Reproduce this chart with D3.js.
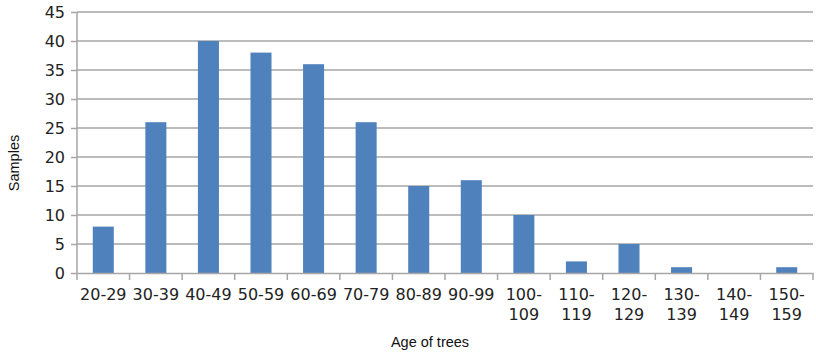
<!DOCTYPE html>
<html><head><meta charset="utf-8">
<script src="https://cdn.jsdelivr.net/npm/d3@7"></script>
<style>html,body{margin:0;padding:0;background:#fff;}svg{display:block;}</style>
</head><body>
<svg id="c" width="816" height="360"></svg>
<script>
const categories = ["20-29","30-39","40-49","50-59","60-69","70-79","80-89","90-99","100-109","110-119","120-129","130-139","140-149","150-159"];
const samples = [8,26,40,38,36,26,15,16,10,2,5,1,0,1];
const yTicks = [0,5,10,15,20,25,30,35,40,45];
const xTitle = "Age of trees";
const yTitle = "Samples";

const svg = d3.select("#c");
const m = {left:77, right:813, top:12, bottom:273};
const x = d3.scaleBand().domain(categories).range([m.left, m.right]).paddingInner(0.6).paddingOuter(0.3);
const xb = d3.scaleBand().domain(categories).range([m.left, m.right]);
const y = d3.scaleLinear().domain([0,45]).range([m.bottom, m.top]);
const grey = "#a6a6a6";

// gridlines
svg.append("g").selectAll("line").data(yTicks.filter(d=>d>0)).join("line")
  .attr("x1", m.left).attr("x2", m.right)
  .attr("y1", d=>y(d)).attr("y2", d=>y(d))
  .attr("stroke", grey).attr("stroke-width", 1.5);

// bars
svg.append("g").selectAll("rect").data(categories).join("rect")
  .attr("x", d=>x(d)).attr("width", x.bandwidth())
  .attr("y", (d,i)=>y(samples[i])).attr("height", (d,i)=>m.bottom - y(samples[i]))
  .attr("fill", "#4f81bd");

// y axis
const ya = svg.append("g").attr("transform", `translate(${m.left},0)`)
  .call(d3.axisLeft(y).tickValues(yTicks).tickSize(6).tickPadding(6));
ya.select(".domain").attr("stroke", grey).attr("stroke-width", 1.5).attr("d", `M0,${m.bottom}V${m.top}`);
ya.selectAll(".tick line").attr("stroke", grey).attr("stroke-width", 1.5);
ya.selectAll(".tick text").attr("font-family", "DejaVu Sans").attr("font-size", 16).attr("fill", "#222");

// x axis
const xa = svg.append("g").attr("transform", `translate(0,${m.bottom})`)
  .call(d3.axisBottom(xb).tickSize(0).tickFormat(""));
xa.select(".domain").attr("stroke", grey).attr("stroke-width", 1.5);
xa.selectAll(".tick").remove();
// tick marks at category boundaries
const bounds = categories.map(c=>xb(c)).concat([m.right]);
xa.append("g").selectAll("line").data(bounds).join("line")
  .attr("x1", d=>d).attr("x2", d=>d).attr("y1", 0).attr("y2", 7)
  .attr("stroke", grey).attr("stroke-width", 1.5);
// labels
const lab = xa.append("g").selectAll("text").data(categories).join("text")
  .attr("x", d=>xb(d)+xb.bandwidth()/2).attr("y", 27)
  .attr("text-anchor","middle").attr("font-family","DejaVu Sans").attr("font-size",16).attr("fill","#222");
lab.each(function(d){
  const t = d3.select(this);
  const parts = d.split("-");
  if (parts[0].length >= 3) {
    t.append("tspan").attr("x", xb(d)+xb.bandwidth()/2).attr("dy", 0).text(parts[0]+"-");
    t.append("tspan").attr("x", xb(d)+xb.bandwidth()/2).attr("dy", 20).text(parts[1]);
  } else {
    t.text(d);
  }
});

// titles
svg.append("text").attr("x", (m.left+m.right)/2 - 15).attr("y", 347)
  .attr("text-anchor","middle").attr("font-family","Liberation Sans, Arial").attr("font-size",14.5).attr("fill","#111").text(xTitle);
svg.append("text").attr("transform","translate(19,163) rotate(-90)")
  .attr("text-anchor","middle").attr("font-family","Liberation Sans, Arial").attr("font-size",14.5).attr("fill","#111").text(yTitle);
</script>
</body></html>
